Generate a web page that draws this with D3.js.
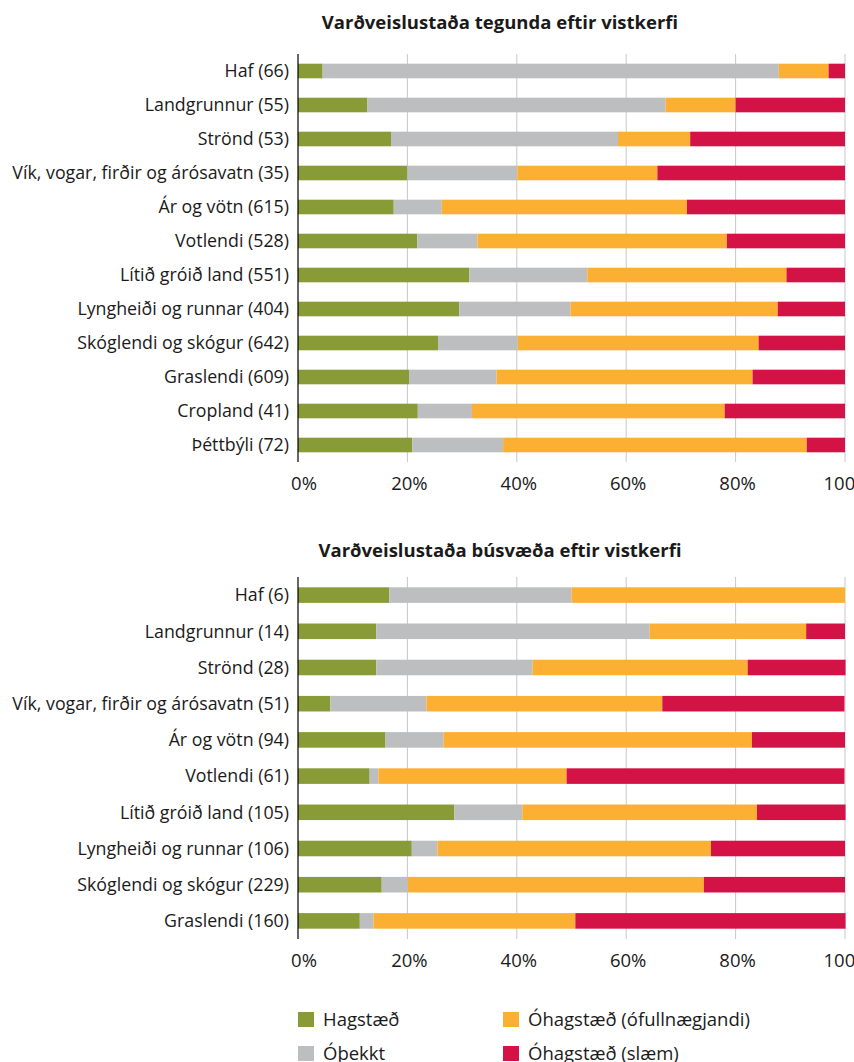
<!DOCTYPE html>
<html>
<head>
<meta charset="utf-8">
<script src="https://cdn.jsdelivr.net/npm/d3@7"></script>
<style>
  body { margin: 0; background: #fff; font-family: "Open Sans", sans-serif; }
  svg { display: block; }
</style>
</head>
<body>
<script>
// DATA
const keys = ["Hagstæð", "Óþekkt", "Óhagstæð (ófullnægjandi)", "Óhagstæð (slæm)"];
const colors = ["#889b37", "#bdbebf", "#fbb034", "#d31245"];
const ticks = [0, 20, 40, 60, 80, 100];

// chart 1 - tegundir
const title1 = "Varðveislustaða tegunda eftir vistkerfi";
const cats1 = ["Haf (66)", "Landgrunnur (55)", "Strönd (53)", "Vík, vogar, firðir og árósavatn (35)",
  "Ár og vötn (615)", "Votlendi (528)", "Lítið gróið land (551)", "Lyngheiði og runnar (404)",
  "Skóglendi og skógur (642)", "Graslendi (609)", "Cropland (41)", "Þéttbýli (72)"];
const good1 = [4.5, 12.7, 17.0, 20.0, 17.5, 21.8, 31.3, 29.5, 25.6, 20.3, 21.9, 20.9];
const unknown1 = [83.4, 54.5, 41.5, 20.1, 8.8, 11.0, 21.6, 20.3, 14.6, 16.0, 9.9, 16.6];
const poor1 = [9.1, 12.8, 13.2, 25.6, 44.8, 45.6, 36.4, 37.9, 44.0, 46.8, 46.2, 55.5];
const bad1 = [3.0, 20.0, 28.3, 34.3, 28.9, 21.6, 10.7, 12.3, 15.8, 16.9, 22.0, 7.0];

// chart 2 - búsvæði
const title2 = "Varðveislustaða búsvæða eftir vistkerfi";
const cats2 = ["Haf (6)", "Landgrunnur (14)", "Strönd (28)", "Vík, vogar, firðir og árósavatn (51)",
  "Ár og vötn (94)", "Votlendi (61)", "Lítið gróið land (105)", "Lyngheiði og runnar (106)",
  "Skóglendi og skógur (229)", "Graslendi (160)"];
const good2 = [16.7, 14.3, 14.3, 5.9, 16.0, 13.1, 28.6, 20.8, 15.3, 11.3];
const unknown2 = [33.3, 50.0, 28.6, 17.6, 10.6, 1.6, 12.4, 4.7, 4.8, 2.5];
const poor2 = [50.0, 28.6, 39.3, 43.1, 56.4, 34.4, 42.9, 50.0, 54.1, 36.9];
const bad2 = [0.0, 7.1, 17.9, 33.3, 17.0, 50.8, 16.2, 24.5, 25.8, 49.4];

const W = 854, H = 1062;
const svg = d3.select("body").append("svg").attr("width", W).attr("height", H);

function drawChart(title, cats, series, top, bottom, titleY) {
  const x = d3.scaleLinear().domain([0, 100]).range([298, 845]);
  const y = d3.scaleBand().domain(cats).range([top, bottom]).paddingInner(0.57).paddingOuter(0.285);

  const rows = cats.map((c, i) => {
    const r = { cat: c };
    keys.forEach((k, j) => r[k] = series[j][i]);
    return r;
  });
  const stacked = d3.stack().keys(keys)(rows);

  const g = svg.append("g");

  g.append("text")
    .attr("x", 500).attr("y", titleY)
    .attr("text-anchor", "middle")
    .attr("font-size", 18.5).attr("font-weight", 700)
    .attr("fill", "#1a1a1a")
    .text(title);

  // gridlines
  g.selectAll(".grid").data(ticks.slice(1)).enter().append("line")
    .attr("x1", d => x(d)).attr("x2", d => x(d))
    .attr("y1", top).attr("y2", bottom)
    .attr("stroke", "#c8c8c8").attr("stroke-width", 1);

  // bars
  g.selectAll(".layer").data(stacked).enter().append("g")
    .attr("fill", (d, i) => colors[i])
    .selectAll("rect").data(d => d).enter().append("rect")
    .attr("x", d => x(d[0]))
    .attr("width", d => x(d[1]) - x(d[0]))
    .attr("y", d => y(d.data.cat))
    .attr("height", y.bandwidth());

  // y axis line
  g.append("line")
    .attr("x1", x(0)).attr("x2", x(0))
    .attr("y1", top).attr("y2", bottom)
    .attr("stroke", "#000").attr("stroke-width", 1.2);

  // category labels
  g.selectAll(".lab").data(cats).enter().append("text")
    .attr("x", 289).attr("y", d => y(d) + y.bandwidth() / 2)
    .attr("dy", "0.35em")
    .attr("text-anchor", "end")
    .attr("font-size", 17.8).attr("fill", "#1a1a1a")
    .text(d => d);

  // x tick labels
  g.selectAll(".tick").data(ticks).enter().append("text")
    .attr("x", d => x(d) + (d === 0 ? 6 : 2)).attr("y", bottom + 28)
    .attr("text-anchor", "middle")
    .attr("font-size", 18.5).attr("fill", "#1a1a1a")
    .text(d => d + "%");
}

drawChart(title1, cats1, [good1, unknown1, poor1, bad1], 54, 462, 29);
drawChart(title2, cats2, [good2, unknown2, poor2, bad2], 577, 939, 557);

// LEGEND
const legendPos = [[298, 1012], [298, 1046], [503, 1012], [503, 1046]];
const leg = svg.append("g");
keys.forEach((k, i) => {
  leg.append("rect")
    .attr("x", legendPos[i][0]).attr("y", legendPos[i][1])
    .attr("width", 16).attr("height", 15)
    .attr("fill", colors[i]);
  leg.append("text")
    .attr("x", legendPos[i][0] + 25).attr("y", legendPos[i][1] + 14)
    .attr("font-size", 18.5).attr("fill", "#1a1a1a")
    .text(k);
});
</script>
</body>
</html>
